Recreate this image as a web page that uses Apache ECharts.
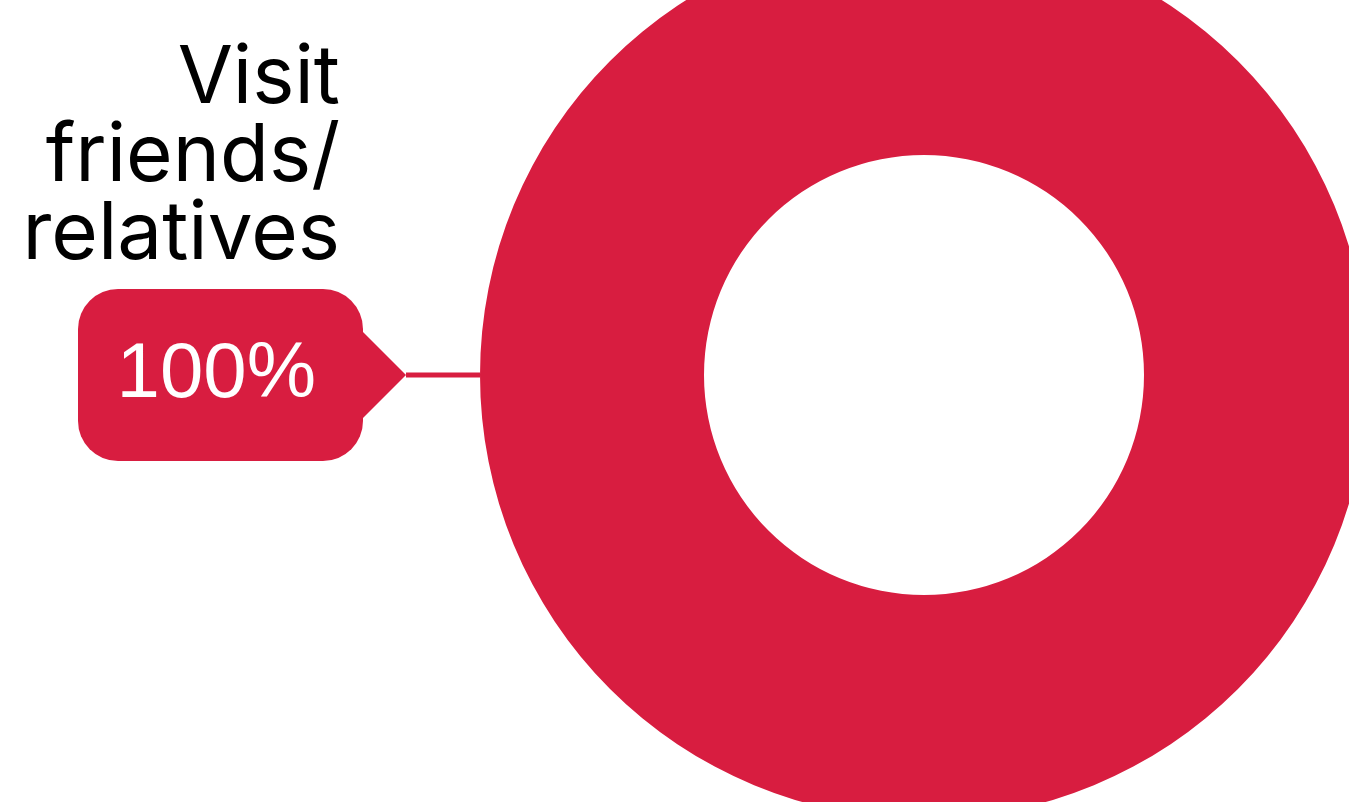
<!DOCTYPE html>
<html><head><meta charset="utf-8">
<script src="https://cdn.jsdelivr.net/npm/echarts@6/dist/echarts.min.js"></script>
<style>html,body{margin:0;padding:0;background:#fff}#chart{width:1349px;height:802px}</style>
</head><body><div id="chart"></div>
<script>
const categories = ['Visit friends/ relatives'];
const values = [100];

const RED = '#D81D40';
const arrowSvg = 'data:image/svg+xml;charset=utf-8,' + encodeURIComponent('<svg xmlns="http://www.w3.org/2000/svg" width="43" height="86" viewBox="0 0 43 86"><polygon points="0,0 43,43 0,86" fill="#D81D40"/></svg>');

const chart = echarts.init(document.getElementById('chart'), null, {renderer: 'canvas'});
chart.setOption({
  animation: false,
  series: [{
    type: 'pie',
    center: [924, 375],
    radius: [220, 444],
    startAngle: 0,
    clockwise: true,
    avoidLabelOverlap: false,
    silent: true,
    data: categories.map((c, i) => ({name: c, value: values[i]})),
    itemStyle: {color: RED},
    label: {
      show: true,
      position: 'outside',
      distanceToLabelLine: 0,
      overflow: 'none',
      width: 400,
      padding: [0, 0, 234, 0],
      formatter: p => p.name.split(' ').map(w => '{name|' + w + '}').join('\n') +
        '\n{box|' + Math.round(p.percent) + '%}{arrow|}',
      rich: {
        name: {fontFamily: 'Inter', fontSize: 80, lineHeight: 78, color: '#000', align: 'right', padding: [0, 66, 0, 0]},
        box: {fontFamily: 'Liberation Sans', fontSize: 78, color: '#fff', align: 'right', width: 238, height: 172, lineHeight: 202,
              padding: [0, 47, 0, 0], backgroundColor: RED, borderRadius: 40},
        arrow: {width: 43, height: 86, lineHeight: 202, align: 'right', backgroundColor: {image: arrowSvg}}
      }
    },
    labelLine: {show: true, length: 37, length2: 37, lineStyle: {color: RED, width: 5}}
  }]
});
</script>
</body></html>
